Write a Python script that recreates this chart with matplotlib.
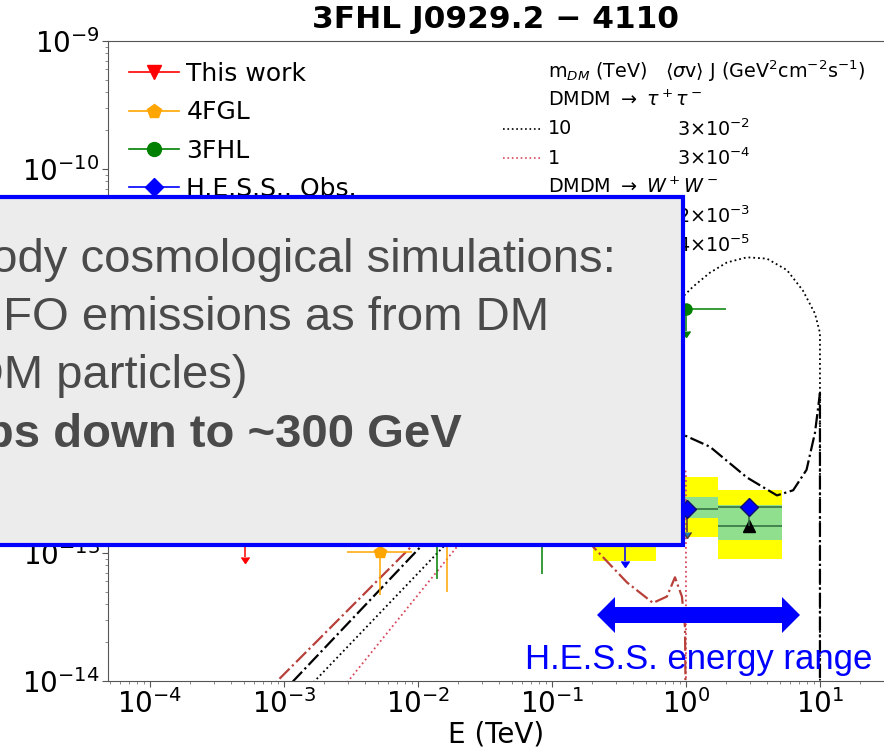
import matplotlib
matplotlib.use("Agg")
import matplotlib.pyplot as plt
import numpy as np
from matplotlib.lines import Line2D
from matplotlib.patches import Rectangle, Polygon
from matplotlib.ticker import LogLocator, NullFormatter

W, H = 884, 751  # canvas size in pixels


def fx(px):
    return px / W


def fy(py):
    return 1 - py / H


# DM annihilation spectra: log10(E / TeV) and log10(E^2 dN/dE)
tau10_logE = [-2.9, -2.77, -1.80, -1.3, -0.8, -0.4, -0.082, 0.052, 0.179, 0.306,
              0.455, 0.604, 0.754, 0.873, 0.963, 1.0, 1.0]
tau10_logF = [-14.15, -14.0, -12.94, -12.38, -11.83, -11.4, -11.06, -10.92, -10.81, -10.73,
              -10.69, -10.70, -10.79, -10.95, -11.13, -11.28, -14.5]

tau1_logE = [-2.65, -2.52, -1.70, -1.2, -0.8, -0.5, -0.25, -0.08, 0.0, 0.0]
tau1_logF = [-14.15, -14.0, -12.94, -12.4, -12.12, -12.0, -12.03, -12.17, -12.37, -14.5]

ww10_logE = [-3.05, -2.93, -1.97, -1.5, -1.0, -0.6, -0.3, -0.097, 0.179, 0.455,
             0.679, 0.80, 0.90, 0.963, 1.0, 1.0]
ww10_logF = [-14.15, -14.0, -12.94, -12.5, -12.2, -12.05, -12.0, -12.04, -12.17, -12.41,
             -12.55, -12.51, -12.35, -12.06, -11.75, -14.5]

ww1_logE = [-3.15, -3.05, -2.04, -1.6, -1.2, -0.9, -0.694, -0.44, -0.246, -0.142,
            -0.082, -0.03, -0.007, 0.0]
ww1_logF = [-14.12, -14.0, -12.94, -12.55, -12.5, -12.7, -12.95, -13.23, -13.39, -13.34,
            -13.19, -13.34, -13.58, -14.5]

# This work (upper limits)
tw_E = [5.1e-4, 0.50]
tw_F = [2.0e-13, 5.2e-12]
tw_tip = [9.3e-14, 2.6e-12]
tw_Elo = [5.1e-4, 0.25]
tw_Ehi = [5.1e-4, 1.0]

# 4FGL
fgl_E = [5.2e-3, 1.66e-2]
fgl_F = [1.02e-13, 1.78e-13]
fgl_lo = [4.7e-14, 5.0e-14]
fgl_hi = [1.6e-13, 2.6e-13]
fgl_Elo = [2.95e-3, 1.1e-2]
fgl_Ehi = [9.1e-3, 2.6e-2]

# 3FHL
fhl_E = [1.38e-2, 8.5e-2]
fhl_F = [1.8e-13, 2.0e-13]
fhl_lo = [6.3e-14, 6.9e-14]
fhl_hi = [3.0e-13, 3.2e-13]
fhl_ul_E = [1.0]
fhl_ul_F = [8.1e-12]
fhl_ul_tip = [5.4e-12]
fhl_ul_Elo = [0.5]
fhl_ul_Ehi = [2.0]

# H.E.S.S. observations, expectations and bands
hess_E = [1.01, 2.95]
hess_F = [2.2e-13, 2.3e-13]
hess_Elo = [0.60, 1.74]
hess_Ehi = [1.74, 5.2]
hess_ul_E = [0.35]
hess_ul_F = [1.6e-13]
hess_ul_tip = [8.7e-14]
exp_ul_E = [1.01]
exp_ul_F = [2.0e-13]
exp_ul_tip = [1.45e-13]
exp_E = [2.95]
exp_F = [1.62e-13]
band_Elo = [0.204, 0.60, 1.74]
band_Ehi = [0.60, 1.74, 5.2]
yellow_lo = [-13.06, -12.875, -13.05]
yellow_hi = [-12.55, -12.41, -12.51]
green_lo = [-12.95, -12.73, -12.90]
green_hi = [-12.70, -12.56, -12.625]

fig = plt.figure(figsize=(W / 100, H / 100), dpi=100)
ax = fig.add_axes([fx(108), fy(681), fx(884) - fx(108), fy(41) - fy(681)])
ax.set_xscale("log")
ax.set_yscale("log")

# expected-limit bands
for e0, e1, y0, y1, g0, g1 in zip(band_Elo, band_Ehi, yellow_lo, yellow_hi, green_lo, green_hi):
    ax.fill_between([e0, e1], 10 ** y0, 10 ** y1, color="#ffff00", lw=0, zorder=1)
    ax.fill_between([e0, e1], 10 ** g0, 10 ** g1, color="#8fdf8f", lw=0, zorder=1.1)

# spectra
ax.plot(10 ** np.array(tau10_logE), 10 ** np.array(tau10_logF), ls=":", color="black", lw=1.3, zorder=2)
ax.plot(10 ** np.array(tau1_logE), 10 ** np.array(tau1_logF), ls=":", color="#d84a5e", lw=1.3, zorder=2)
ax.plot(10 ** np.array(ww10_logE), 10 ** np.array(ww10_logF), ls="-.", color="black", lw=1.6, zorder=2)
ax.plot(10 ** np.array(ww1_logE), 10 ** np.array(ww1_logF), ls="-.", color="#b8403a", lw=1.6, zorder=2)


# data points
def xerr(E, lo, hi):
    E = np.array(E)
    return [E - np.array(lo), np.array(hi) - E]


ax.errorbar(tw_E, tw_F, xerr=xerr(tw_E, tw_Elo, tw_Ehi),
            yerr=[np.array(tw_F) - np.array(tw_tip), np.zeros(len(tw_F))],
            uplims=True, fmt="v", color="red", ms=8, lw=1.1, capsize=0, zorder=3)
ax.errorbar(fgl_E, fgl_F, xerr=xerr(fgl_E, fgl_Elo, fgl_Ehi),
            yerr=[np.array(fgl_F) - np.array(fgl_lo), np.array(fgl_hi) - np.array(fgl_F)],
            fmt="p", color="orange", ms=9, lw=1.1, zorder=3)
ax.errorbar(fhl_E, fhl_F,
            yerr=[np.array(fhl_F) - np.array(fhl_lo), np.array(fhl_hi) - np.array(fhl_F)],
            fmt="o", color="green", ms=8, lw=1.1, zorder=3)
ax.errorbar(fhl_ul_E, fhl_ul_F, xerr=xerr(fhl_ul_E, fhl_ul_Elo, fhl_ul_Ehi),
            yerr=[np.array(fhl_ul_F) - np.array(fhl_ul_tip), [0]],
            uplims=True, fmt="o", color="green", ms=8, lw=1.1, capsize=0, zorder=3)
ax.errorbar(hess_ul_E, hess_ul_F, yerr=[np.array(hess_ul_F) - np.array(hess_ul_tip), [0]],
            uplims=True, fmt="D", color="blue", ms=8, lw=1.1, capsize=0, zorder=3)
ax.errorbar(exp_ul_E, exp_ul_F, yerr=[np.array(exp_ul_F) - np.array(exp_ul_tip), [0]],
            uplims=True, fmt="none", ecolor="#5a3a2a", lw=1.1, capsize=0, zorder=3)
ax.errorbar(exp_E, exp_F, xerr=xerr(exp_E, [hess_Elo[1]], [hess_Ehi[1]]),
            fmt="^", color="black", ecolor="#2f6a3c", ms=9, lw=1.1, zorder=3)
ax.errorbar(hess_E, hess_F, xerr=xerr(hess_E, hess_Elo, hess_Ehi),
            yerr=[np.array(hess_F) - np.array([exp_ul_F[0], exp_F[0]]), [0, 0]],
            fmt="D", color="blue", ecolor="#2f6a3c", mec="#10106a", ms=9, lw=1.1, zorder=4)

ax.set_xlim(10 ** -4.313, 10 ** 1.478)
ax.set_ylim(1e-14, 1e-9)
ax.xaxis.set_minor_locator(LogLocator(base=10, subs=np.arange(2, 10), numticks=100))
ax.xaxis.set_minor_formatter(NullFormatter())
ax.yaxis.set_minor_locator(LogLocator(base=10, subs=np.arange(2, 10), numticks=100))
ax.yaxis.set_minor_formatter(NullFormatter())
ax.tick_params(which="major", labelsize=20, length=4, pad=2, color="#555555")
ax.tick_params(which="minor", length=2.5, color="#777777")
ax.spines["right"].set_visible(False)
for s in ["left", "bottom", "top"]:
    ax.spines[s].set_color("#555555")

ax.set_title("3FHL J0929.2 − 4110", fontsize=22.5, fontweight="bold", pad=9)
ax.set_xlabel("E (TeV)", fontsize=20, labelpad=1)

# legend for the data sets
handles = [
    Line2D([], [], color="red", marker="v", ms=10, lw=1.2),
    Line2D([], [], color="orange", marker="p", ms=10, lw=1.2),
    Line2D([], [], color="green", marker="o", ms=10, lw=1.2),
    Line2D([], [], color="blue", marker="D", ms=9, lw=1.2),
]
labels = ["This work", "4FGL", "3FHL", "H.E.S.S.. Obs."]
ax.legend(handles, labels, loc="upper left", bbox_to_anchor=(fx(129), fy(62)),
          bbox_transform=fig.transFigure, frameon=False, fontsize=18,
          handlelength=2.0, handletextpad=0.3, labelspacing=0.57,
          borderpad=0, borderaxespad=0)

# legend for the DM models
dm_rows = [71, 100, 129, 158, 187, 216, 245]
dm_col1 = [r"m$_{DM}$ (TeV)   $\langle\sigma$v$\rangle$ J (GeV$^2$cm$^{-2}$s$^{-1}$)",
           r"DMDM $\rightarrow$ $\tau^+\tau^-$", "10", "1",
           r"DMDM $\rightarrow$ $W^+W^-$", "10", "1"]
dm_col2 = ["", "", r"3$\times$10$^{-2}$", r"3$\times$10$^{-4}$", "",
           r"2$\times$10$^{-3}$", r"4$\times$10$^{-5}$"]
dm_styles = [None, None, (":", "black", 1.2), (":", "#d84a5e", 1.2), None,
             ("-.", "black", 1.4), ("-.", "#b8403a", 1.4)]
for y, t1, t2, st in zip(dm_rows, dm_col1, dm_col2, dm_styles):
    fig.text(fx(548), fy(y), t1, fontsize=13.8, va="center", ha="left")
    if t2:
        fig.text(fx(677), fy(y), t2, fontsize=13.8, va="center", ha="left")
    if st:
        fig.add_artist(Line2D([fx(503), fx(542)], [fy(y), fy(y)], ls=st[0], color=st[1],
                              lw=st[2], transform=fig.transFigure))

# slide overlay
fig.add_artist(Rectangle((fx(-20), fy(545)), fx(703), (545 - 197) / H,
                         transform=fig.transFigure, facecolor="#ececec",
                         edgecolor="#0000ff", lw=3, zorder=5))
box_lines = [
    ("N-body cosmological simulations:", 616, 272, "normal"),
    ("UFO emissions as from DM", 549, 330, "normal"),
    ("(DM particles)", 247, 388, "normal"),
    ("obs down to ~300 GeV", 462, 447, "bold"),
]
for txt, xr, yb, wt in box_lines:
    fig.text(fx(xr), fy(yb), txt, fontsize=34, family="Liberation Sans", weight=wt,
             color="#4a4a4a", ha="right", va="baseline", zorder=6)

# H.E.S.S. energy range arrow
arrow_px = [(597, 615), (615, 597), (615, 607), (782, 607), (782, 597), (800, 615),
            (782, 633), (782, 623), (615, 623), (615, 633)]
fig.add_artist(Polygon([(fx(px), fy(py)) for px, py in arrow_px], closed=True,
                       transform=fig.transFigure, facecolor="#0000ff", edgecolor="none", zorder=6))
fig.text(fx(525), fy(669), "H.E.S.S. energy range", fontsize=25, family="Liberation Sans",
         color="#0000ff", ha="left", va="baseline", zorder=6)

fig.savefig("out.png", dpi=100)
